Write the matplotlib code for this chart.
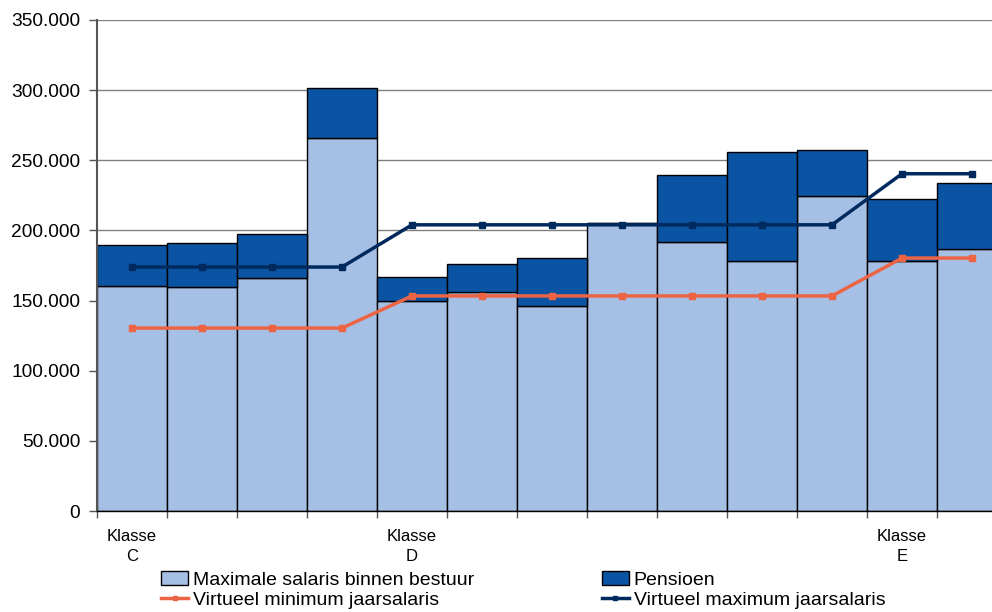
import matplotlib
matplotlib.use("Agg")
import matplotlib.pyplot as plt
from matplotlib.ticker import FuncFormatter, FixedLocator
from matplotlib.transforms import blended_transform_factory
from matplotlib.lines import Line2D
from matplotlib.patches import Patch

plt.rcParams['font.family'] = ['Liberation Sans', 'DejaVu Sans']

# Data
salaris = [160400, 159700, 166000, 265900, 149700, 156100, 146000,
           205300, 191500, 178200, 224300, 178400, 186800]
pensioen = [29200, 31300, 31400, 35600, 17100, 19900, 34300,
            0, 48000, 77900, 32800, 43800, 46800]
virt_min = [130400, 130400, 130400, 130400, 153300, 153300, 153300,
            153300, 153300, 153300, 153300, 180300, 180300]
virt_max = [173900, 173900, 173900, 173900, 204000, 204000, 204000,
            204000, 204000, 204000, 204000, 240400, 240400]
klasse_labels = {0: "Klasse\nC", 4: "Klasse\nD", 11: "Klasse\nE"}
legend_labels = ["Maximale salaris binnen bestuur", "Pensioen",
                 "Virtueel minimum jaarsalaris", "Virtueel maximum jaarsalaris"]

c_light = "#A6BFE4"
c_dark = "#0A54A3"
c_min = "#EC6444"
c_max = "#002A5E"

W, H = 992, 612
fig = plt.figure(figsize=(W / 100, H / 100), dpi=100)
left, right, top, bottom = 97, 1007, 20, 511
ax = fig.add_axes([left / W, 1 - bottom / H, (right - left) / W, (bottom - top) / H])

n = len(salaris)
x = [i + 0.5 for i in range(n)]
ax.bar(x, salaris, width=1.0, color=c_light, edgecolor="black", linewidth=1.0, zorder=2)
ax.bar(x, pensioen, width=1.0, bottom=salaris, color=c_dark, edgecolor="black", linewidth=1.0, zorder=2)
ax.plot(x, virt_min, color=c_min, linewidth=2.5, marker="s", markersize=4, zorder=3)
ax.plot(x, virt_max, color=c_max, linewidth=2.5, marker="s", markersize=4, zorder=3)

ax.set_xlim(0, n)
ax.set_ylim(0, 350000)
ax.yaxis.set_major_locator(FixedLocator(range(0, 350001, 50000)))
ax.yaxis.set_major_formatter(FuncFormatter(lambda v, p: f"{int(v):,}".replace(",", ".")))
ax.grid(axis="y", color="#808080", linewidth=1.0, zorder=0)
ax.set_axisbelow(True)
for s in ["top", "right"]:
    ax.spines[s].set_visible(False)
ax.spines["left"].set_color("#555555")
ax.spines["left"].set_linewidth(1.5)
ax.spines["bottom"].set_color("black")
ax.spines["bottom"].set_linewidth(1.0)
ax.set_xticks(range(0, n + 1))
ax.set_xticklabels([])
ax.tick_params(axis="x", length=5, width=1, color="#555555", direction="out")
ax.tick_params(axis="y", length=6, width=1, color="#555555", direction="out",
               labelsize=13.8, pad=6)

trans = blended_transform_factory(ax.transData, ax.transAxes)
for i, lab in klasse_labels.items():
    ax.text(x[i], -0.037, lab, transform=trans, ha="center", va="top",
            fontsize=12, linespacing=1.4)

handles = [Patch(facecolor=c_light, edgecolor="black", linewidth=1.0),
           Line2D([], [], color=c_min, linewidth=2.5, marker="s", markersize=3),
           Patch(facecolor=c_dark, edgecolor="black", linewidth=1.0),
           Line2D([], [], color=c_max, linewidth=2.5, marker="s", markersize=3)]
labels = [legend_labels[0], legend_labels[2], legend_labels[1], legend_labels[3]]
fig.legend(handles, labels, ncol=2, loc="upper left", bbox_to_anchor=(161 / W, 1 - 571 / H),
           frameon=False, fontsize=14.0, handlelength=1.4, handletextpad=0.25,
           columnspacing=6.55, labelspacing=0.12, borderpad=0, borderaxespad=0)

fig.savefig("out.png", dpi=100)
